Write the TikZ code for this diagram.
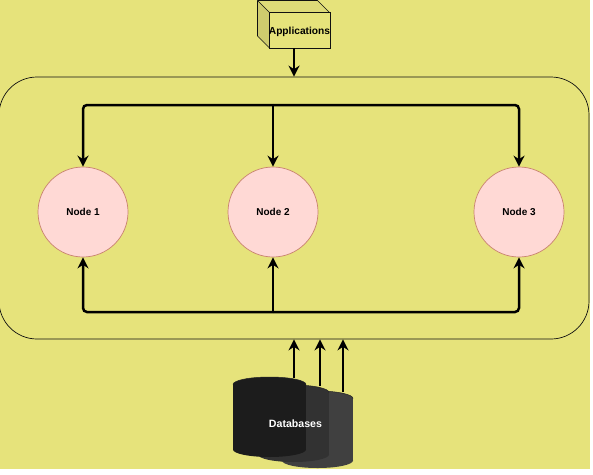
\documentclass[tikz,border=0pt]{standalone}
\usepackage{fontspec}
\usepackage{xcolor}
\setmainfont{Liberation Sans}
\usetikzlibrary{arrows.meta,positioning,shapes,calc}
\definecolor{paper}{HTML}{E6E37B}
\definecolor{ink}{HTML}{111111}
\definecolor{nodepink}{HTML}{FFD9D5}
\definecolor{nodeedge}{HTML}{C9836F}
\definecolor{cubetop}{HTML}{DEDB78}
\definecolor{cubeside}{HTML}{CFCC6E}
\definecolor{dbfront}{HTML}{1C1C1C}
\definecolor{dbmid}{HTML}{323232}
\definecolor{dbback}{HTML}{404040}
\tikzset{
  clusternode/.style={circle,draw=nodeedge,fill=nodepink,line width=0.7pt,
                      minimum size=90pt,inner sep=0pt,font=\fontsize{10}{12}\selectfont\bfseries},
  panel/.style={draw=ink,line width=0.7pt,rounded corners=38pt,
                minimum width=590pt,minimum height=262pt,inner sep=0pt},
  appbox/.style={draw=ink,line width=0.6pt,minimum width=60pt,minimum height=35.5pt,
                 inner sep=0pt,text height=7.5pt,text depth=0pt,font=\fontsize{10.2}{12}\selectfont\bfseries},
  cubeface/.style={draw=ink,line width=0.6pt,line join=round},
  flowarr/.style={-{Stealth[length=11pt,width=11pt]},line width=2.5pt,rounded corners=4pt},
  dbarr/.style={-{Stealth[length=11pt,width=11pt]},line width=2.1pt}
}
\begin{document}
\begin{tikzpicture}[x=1pt,y=-1pt]
  \useasboundingbox (0,0) rectangle (593,474);
  \fill[paper] (0,0) rectangle (590,469);

  \begin{scope}
    \clip (0,0) rectangle (590,469);
    \node[panel] (cluster) at (294,208) {};

    % databases, back to front
    \foreach \xc/\ytop/\ybot/\rx/\dbcol in {317.5/398.5/460.5/35.5/dbback,
                                             293.5/392.5/454.5/35.5/dbmid,
                                             269.5/384.5/449.5/36.5/dbfront}{
      \fill[\dbcol] (\xc-\rx,\ytop) rectangle (\xc+\rx,\ybot);
      \fill[\dbcol] (\xc,\ybot) ellipse [x radius=\rx,y radius=7.5];
      \fill[\dbcol] (\xc,\ytop) ellipse [x radius=\rx,y radius=7.5];
      \draw[black!85,line width=0.5pt] (\xc-\rx,\ytop) arc [start angle=180,end angle=360,x radius=\rx,y radius=7.5];
    }
  \end{scope}
  \node[font=\fontsize{10.6}{12}\selectfont\bfseries,text=white] (dblabel) at (295.5,424) {Databases};

  % cube
  \coordinate (cubenw) at (269.5,12.5);
  \fill[cubetop] (cubenw) -- ++(-12,-12) -- ++(60,0) -- ++(12,12) -- cycle;
  \fill[cubeside] (cubenw) -- ++(-12,-12) -- ++(0,35.5) -- ++(12,12) -- cycle;
  \draw[cubeface] (cubenw) -- ++(-12,-12) -- ++(60,0) -- ++(12,12);
  \draw[cubeface] (269.5,48) -- ++(-12,-12) -- ++(0,-35.5);
  \node[appbox] (apps) at (299.5,30.25) {Applications};

  \node[clusternode] (node1) at (83,212) {Node 1};
  \node[clusternode] (node2) at (273,212) {Node 2};
  \node[clusternode] (node3) at (519,212) {Node 3};

  \coordinate (topbus) at (273,105);
  \coordinate (botbus) at (273,312);
  \coordinate (appout) at (294,48);
  \coordinate (dbout1) at (294,378);
  \coordinate (dbout2) at (320,386);
  \coordinate (dbout3) at (343,392);

  \draw[flowarr] (appout) -- (appout |- cluster.north);
  \draw[flowarr] (topbus) -| (node1);
  \draw[flowarr] (topbus) -| (node3);
  \draw[flowarr] (topbus) -- (node2);
  \draw[flowarr] (botbus) -| (node1);
  \draw[flowarr] (botbus) -| (node3);
  \draw[flowarr] (botbus) -- (node2);
  \draw[dbarr] (dbout1) -- (dbout1 |- cluster.south);
  \draw[dbarr] (dbout2) -- (dbout2 |- cluster.south);
  \draw[dbarr] (dbout3) -- (dbout3 |- cluster.south);
\end{tikzpicture}
\end{document}
